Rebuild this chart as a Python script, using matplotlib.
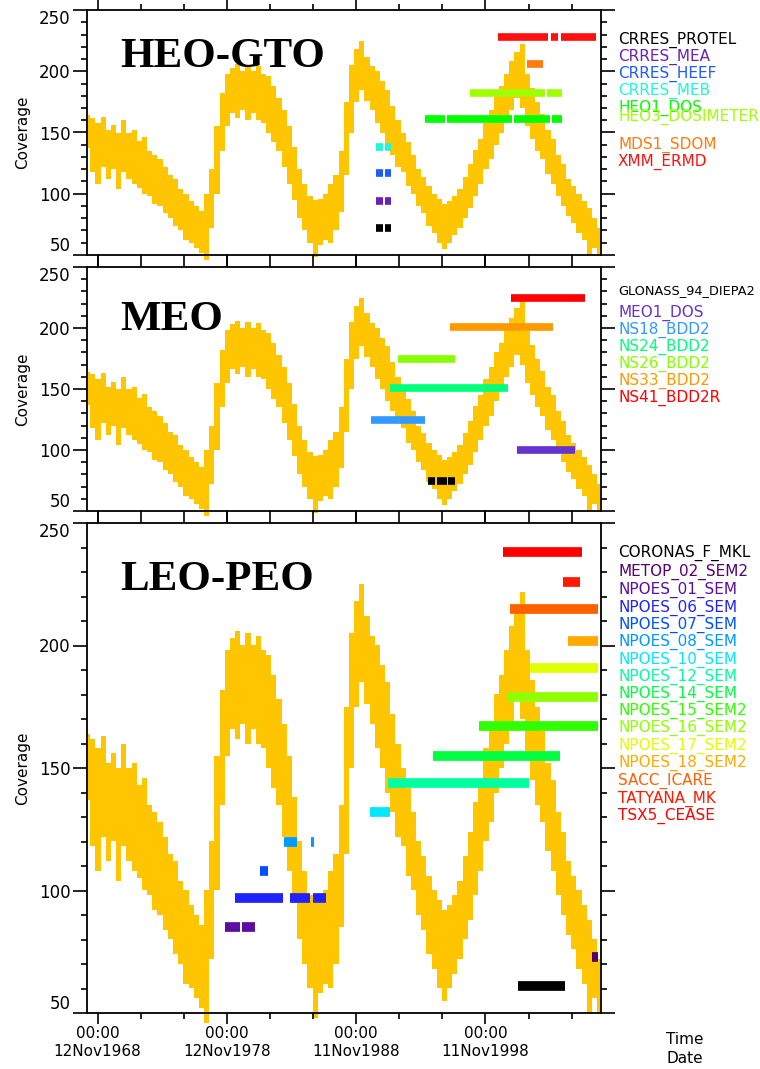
import matplotlib
matplotlib.use("Agg")
import matplotlib.pyplot as plt
from matplotlib.ticker import FixedLocator, MultipleLocator, NullFormatter

# coverage band (same curve in all three panels), decimal years
curve_years = [1968.1, 1968.5, 1968.9, 1969.3, 1969.7, 1970.1, 1970.5, 1970.9, 1971.3, 1971.7,
               1972.1, 1972.5, 1972.9, 1973.3, 1973.7, 1974.1, 1974.5, 1974.9, 1975.3, 1975.7,
               1976.1, 1976.5, 1976.9, 1977.3, 1977.7, 1978.1, 1978.5, 1978.9, 1979.3, 1979.7,
               1980.1, 1980.5, 1980.9, 1981.3, 1981.7, 1982.1, 1982.5, 1982.9, 1983.3, 1983.7,
               1984.1, 1984.5, 1984.9, 1985.3, 1985.7, 1986.1, 1986.5, 1986.9, 1987.3, 1987.7,
               1988.1, 1988.5, 1988.9, 1989.3, 1989.7, 1990.1, 1990.5, 1990.9, 1991.3, 1991.7,
               1992.1, 1992.5, 1992.9, 1993.3, 1993.7, 1994.1, 1994.5, 1994.9, 1995.3, 1995.7,
               1996.1, 1996.5, 1996.9, 1997.3, 1997.7, 1998.1, 1998.5, 1998.9, 1999.3, 1999.7,
               2000.1, 2000.5, 2000.9, 2001.3, 2001.7, 2002.1, 2002.5, 2002.9, 2003.3, 2003.7,
               2004.1, 2004.5, 2004.9, 2005.3, 2005.7, 2006.1, 2006.5, 2006.9, 2007.3, 2007.7]
curve_low = [137, 118, 108, 122, 112, 120, 104, 118, 112, 108,
             105, 100, 98, 92, 90, 84, 80, 74, 70, 62,
             60, 56, 52, 46, 72, 100, 135, 155, 166, 162,
             168, 160, 166, 160, 158, 150, 142, 135, 122, 108,
             95, 80, 70, 60, 48, 58, 62, 60, 70, 85,
             115, 150, 175, 185, 176, 168, 158, 150, 140, 132,
             122, 118, 106, 100, 90, 84, 74, 68, 60, 55,
             60, 66, 72, 80, 88, 98, 108, 120, 128, 140,
             150, 160, 168, 178, 170, 155, 145, 135, 128, 116,
             108, 98, 90, 82, 76, 68, 62, 50, 56, 50]
curve_high = [164, 162, 158, 163, 152, 156, 150, 160, 150, 152,
              143, 146, 135, 132, 128, 122, 115, 112, 104, 100,
              94, 90, 86, 100, 120, 155, 182, 198, 203, 206,
              200, 205, 200, 204, 198, 196, 188, 178, 168, 155,
              138, 120, 108, 98, 95, 96, 100, 108, 115, 135,
              175, 205, 218, 225, 212, 204, 200, 192, 185, 172,
              160, 150, 142, 132, 120, 114, 106, 100, 96, 92,
              94, 98, 104, 114, 124, 136, 145, 158, 168, 180,
              188, 198, 208, 216, 222, 198, 186, 175, 165, 152,
              145, 132, 124, 112, 106, 100, 94, 88, 80, 72]

# HEO-GTO panel
heo_names = ["CRRES_PROTEL", "CRRES_MEA", "CRRES_HEEF", "CRRES_MEB", "HEO1_DOS",
             "HEO3_DOSIMETER", "MDS1_SDOM", "XMM_ERMD"]
heo_colors = ["#000000", "#6a22b4", "#1e5cff", "#22f5dc", "#00ff00", "#a0ff00",
              "#ff7a10", "#ff1010"]
heo_levels = [72, 94, 117, 138, 161, 182, 206, 228]
heo_spans = [
    [(1990.40, 1990.94), (1991.10, 1991.56)],
    [(1990.40, 1990.94), (1991.10, 1991.56)],
    [(1990.40, 1990.94), (1991.10, 1991.56)],
    [(1990.40, 1990.94), (1991.10, 1991.56)],
    [(1994.19, 1995.74), (1995.89, 2000.92), (2001.08, 2003.86), (2004.02, 2004.79)],
    [(1997.67, 2003.47), (2003.63, 2004.79)],
    [(2002.08, 2003.32)],
    [(1999.84, 2003.70), (2003.94, 2004.48), (2004.71, 2007.42)],
]
heo_label_y = [40, 57, 74, 91, 108, 117, 145, 162]

# MEO panel
meo_names = ["GLONASS_94_DIEPA2", "MEO1_DOS", "NS18_BDD2", "NS24_BDD2", "NS26_BDD2",
             "NS33_BDD2", "NS41_BDD2R"]
meo_colors = ["#000000", "#6633cc", "#3399ff", "#00ff7a", "#88ff00", "#ff9900", "#ff0000"]
meo_levels = [75, 100, 125, 151, 175, 201, 225]
meo_spans = [
    [(1994.42, 1995.0), (1995.1, 1995.9), (1996.0, 1996.51)],
    [(2001.3, 2005.8)],
    [(1990.0, 1994.2)],
    [(1991.5, 2000.6)],
    [(1992.1, 1996.5)],
    [(1996.1, 2004.1)],
    [(2000.84, 2006.57)],
]
meo_label_y = [291, 313, 330, 347, 364, 381, 398]

# LEO-PEO panel
leo_names = ["CORONAS_F_MKL", "METOP_02_SEM2", "NPOES_01_SEM", "NPOES_06_SEM",
             "NPOES_07_SEM", "NPOES_08_SEM", "NPOES_10_SEM", "NPOES_12_SEM", "NPOES_14_SEM",
             "NPOES_15_SEM2", "NPOES_16_SEM2", "NPOES_17_SEM2", "NPOES_18_SEM2",
             "SACC_ICARE", "TATYANA_MK", "TSX5_CEASE"]
leo_colors = ["#000000", "#55006e", "#5a0fa0", "#2222ff", "#0050ff", "#0099ff", "#00e8ff",
              "#00ffa0", "#00ff40", "#30ff00", "#90ff00", "#e0ff00", "#ffaa00", "#ff6000",
              "#ff1a00", "#ff0000"]
leo_levels = [61, 73, 85, 97, 108, 120, 132, 144, 155, 167, 179, 191, 202, 215, 226, 238]
leo_spans = [
    [(2001.4, 2005.0)],
    [(2007.1, 2007.6)],
    [(1978.7, 1979.9), (1980.05, 1981.05)],
    [(1979.5, 1983.2), (1983.75, 1985.3), (1985.5, 1986.5)],
    [(1981.4, 1982.05)],
    [(1983.3, 1984.3), (1985.4, 1985.6)],
    [(1989.94, 1991.5)],
    [(1991.35, 2002.2)],
    [(1994.8, 2004.6)],
    [(1998.4, 2007.6)],
    [(2000.6, 2007.6)],
    [(2002.3, 2007.6)],
    [(2005.25, 2007.6)],
    [(2000.8, 2007.6)],
    [(2004.87, 2006.2)],
    [(2000.2, 2006.35)],
]
leo_label_y = [553, 572, 590, 608, 625, 642, 660, 677, 694, 711, 728, 746, 763, 781, 799, 816]

tick_years = [1968.865, 1978.865, 1988.865, 1998.865]
tick_labels = ["00:00\n12Nov1968", "00:00\n12Nov1978", "00:00\n11Nov1988", "00:00\n11Nov1998"]

W, H = 760, 1069
fig = plt.figure(figsize=(W / 100, H / 100), dpi=100)
plt.rcParams['font.family'] = ['DejaVu Sans']


def px_axes(top, bottom):
    return fig.add_axes([87 / W, 1 - bottom / H, (601 - 87) / W, (bottom - top) / H])


panels = [
    (px_axes(10, 255), "HEO-GTO", 57, heo_names, heo_colors, heo_levels, heo_spans, heo_label_y, 5.5),
    (px_axes(267, 511), "MEO", 320, meo_names, meo_colors, meo_levels, meo_spans, meo_label_y, 5.5),
    (px_axes(523, 1013), "LEO-PEO", 580, leo_names, leo_colors, leo_levels, leo_spans, leo_label_y, 7),
]

minor_x = [tick_years[0] + k * 10 / 3 for k in range(12)]

for i, (ax, title, title_y, names, colors, levels, spans, label_y, lw) in enumerate(panels):
    ax.fill_between(curve_years, curve_low, curve_high, step="mid", color="#ffc600", lw=0,
                    clip_on=False)
    for lev, col, segs in zip(levels, colors, spans):
        for s, e in segs:
            ax.hlines(lev, s, e, color=col, lw=lw, capstyle="butt")

    ax.set_xlim(1968.05, 2007.8)
    ax.set_ylim(50, 250)
    ax.xaxis.set_major_locator(FixedLocator(tick_years))
    ax.xaxis.set_minor_locator(FixedLocator(minor_x))
    ax.set_yticks([50, 100, 150, 200, 250])
    ax.yaxis.set_minor_locator(MultipleLocator(10))
    ax.tick_params(which="both", direction="out", top=True, right=True, width=1.2,
                   labelsize=12, pad=2)
    ax.tick_params(which="major", length=8)
    ax.tick_params(which="minor", length=4)
    ax.tick_params(axis="y", which="major", length=10)
    ylabels = ax.get_yticklabels()
    ylabels[0].set_va("bottom")
    ylabels[-1].set_va("top")
    for sp in ax.spines.values():
        sp.set_linewidth(1.3)
    ax.set_ylabel("Coverage", fontsize=11, labelpad=6)
    if i == 2:
        ax.set_xticklabels(tick_labels, fontsize=11, linespacing=1.3)
        ax.tick_params(axis="x", which="major", pad=1)
    else:
        ax.xaxis.set_major_formatter(NullFormatter())

    fig.text(120 / W, 1 - title_y / H, title, fontfamily="Liberation Serif",
             fontweight="bold", fontsize=31, va="center")
    for name, col, y in zip(names, colors, label_y):
        fs = 9.3 if name.startswith("GLONASS") else 11
        fig.text(618 / W, 1 - y / H, name, color=col, fontsize=fs, va="center")

fig.text(685 / W, 1 - 1049 / H, "Time\nDate", fontsize=11, ha="center", va="center",
         linespacing=1.3)

fig.savefig("out.png", dpi=100)
